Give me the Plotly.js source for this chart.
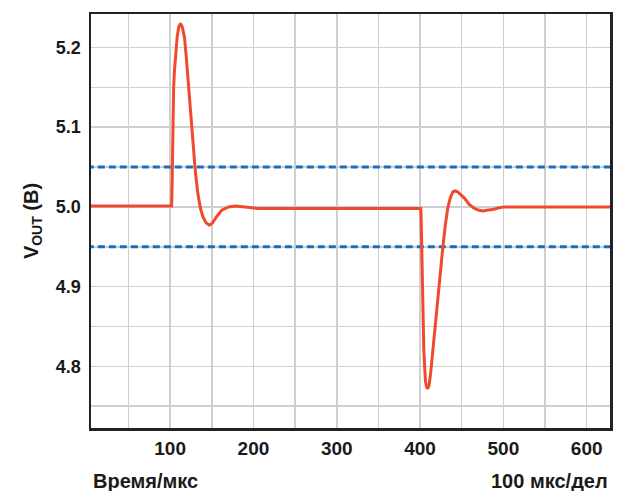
<!DOCTYPE html>
<html>
<head>
<meta charset="utf-8">
<script src="https://cdn.plot.ly/plotly-3.0.1.min.js"></script>
<style>html,body{margin:0;padding:0;background:#fff;}#chart{width:622px;height:491px;}</style>
</head>
<body>
<div id="chart"></div>
<script>
// Output voltage waveform (time in µs, voltage in V)
const timeUs = [0, 101.8, 102.4, 103.2, 104.2, 105.2, 106.8, 108.4, 110.4, 112.4, 114.5, 117.2, 119.2, 121.2, 124.2, 127.2, 130.2, 133.2, 136.2, 139.2, 143, 147.2, 151, 156, 162, 170, 179, 190, 205,
  400.8, 401.2, 402, 402.8, 404.5, 406.4, 407.8, 409.2, 410.8, 412.8, 415.3, 418.3, 421.3, 424.3, 427.3, 430.3, 433.3, 436.5, 439.5, 442, 445, 449, 453.2, 459, 465.2, 470, 475.2, 482, 489, 495, 501, 630];
const vout = [5.001, 5.001, 5.03, 5.121, 5.15, 5.171, 5.195, 5.213, 5.226, 5.230, 5.226, 5.213, 5.19, 5.163, 5.122, 5.080, 5.045, 5.017, 4.999, 4.988, 4.980, 4.977, 4.980, 4.988, 4.996, 5.000, 5.001, 5.000, 4.998,
  4.998, 4.990, 4.95, 4.904, 4.820, 4.782, 4.774, 4.772, 4.776, 4.792, 4.820, 4.852, 4.883, 4.917, 4.949, 4.977, 4.999, 5.012, 5.019, 5.020, 5.019, 5.015, 5.011, 5.003, 4.998, 4.996, 4.995, 4.996, 4.997, 4.999, 5.0, 5.0];
// Tolerance limits
const limitX = [0, 630];
const upperLimit = [5.05, 5.05];
const lowerLimit = [4.95, 4.95];
const xTickVals = [100, 200, 300, 400, 500, 600];
const yTickVals = [4.8, 4.9, 5.0, 5.1, 5.2];

const FONT = 'Liberation Sans, Arial, Helvetica, sans-serif';
const traces = [
  {x: limitX, y: upperLimit, mode: 'lines', line: {color: '#1a6db8', width: 3, dash: '7px,4px'}, hoverinfo: 'skip'},
  {x: limitX, y: lowerLimit, mode: 'lines', line: {color: '#1a6db8', width: 3, dash: '7px,4px'}, hoverinfo: 'skip'},
  {x: timeUs, y: vout, mode: 'lines', line: {color: '#f04a2e', width: 3}}
];
const layout = {
  width: 622, height: 491,
  margin: {l: 91, r: 12, t: 14, b: 63},
  showlegend: false,
  paper_bgcolor: '#fff', plot_bgcolor: '#fff',
  font: {family: FONT, color: '#1a1a1a'},
  xaxis: {
    range: [5, 628], tickvals: xTickVals, ticktext: xTickVals.map(v => '<b>' + v + '</b>'),
    showgrid: true, gridcolor: '#cfcfcf', gridwidth: 1.5,
    minor: {dtick: 50, tick0: 0, showgrid: true, gridcolor: '#cfcfcf', gridwidth: 1.5, ticks: ''},
    ticks: '', zeroline: false, ticklabelstandoff: 2,
    showline: true, mirror: true, linecolor: '#222', linewidth: 2.5,
    tickfont: {size: 19, color: '#1a1a1a'}
  },
  yaxis: {
    range: [4.7226, 5.242], tickvals: yTickVals, ticktext: yTickVals.map(v => '<b>' + v.toFixed(1) + '</b>'),
    showgrid: true, gridcolor: '#cfcfcf', gridwidth: 1.5,
    minor: {dtick: 0.05, tick0: 0, showgrid: true, gridcolor: '#cfcfcf', gridwidth: 1.5, ticks: ''},
    ticks: '', zeroline: false, ticklabelstandoff: 4,
    showline: true, mirror: true, linecolor: '#222', linewidth: 2.5,
    tickfont: {size: 18, color: '#1a1a1a'},
    title: {text: '<b>V<sub>OUT</sub> (В)</b>', font: {size: 20, color: '#1a1a1a'}, standoff: 12}
  },
  annotations: [
    {text: '<b>Время/мкс</b>', xref: 'paper', yref: 'paper', x: 0, y: -0.128, xanchor: 'left', yanchor: 'middle', showarrow: false, font: {size: 20, color: '#1a1a1a'}},
    {text: '<b>100 мкс/дел</b>', xref: 'paper', yref: 'paper', x: 1, y: -0.128, xanchor: 'right', yanchor: 'middle', showarrow: false, font: {size: 20, color: '#1a1a1a'}}
  ]
};
Plotly.newPlot('chart', traces, layout, {displayModeBar: false, staticPlot: true});
</script>
</body>
</html>
